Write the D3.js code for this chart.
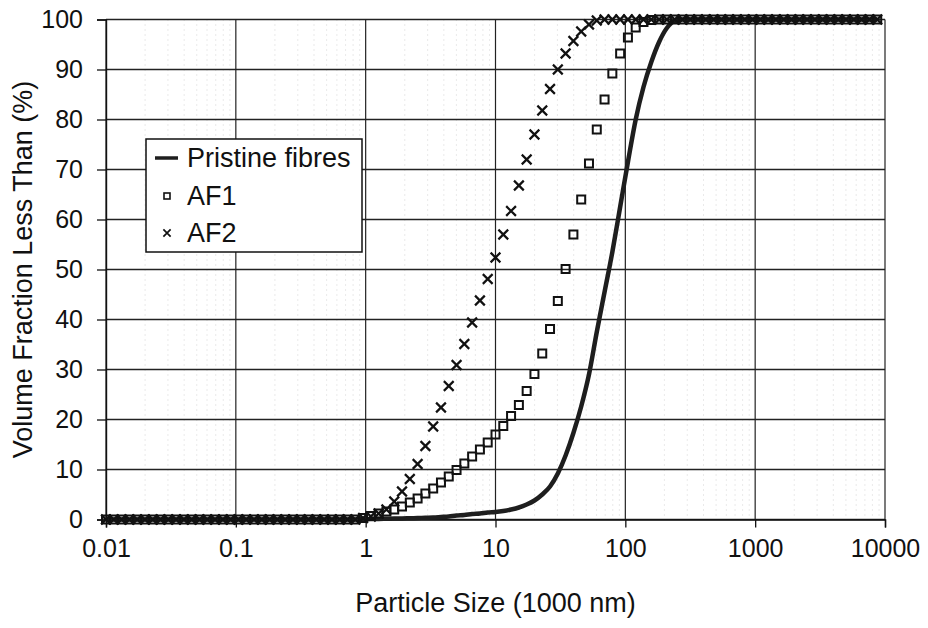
<!DOCTYPE html>
<html>
<head>
<meta charset="utf-8">
<script src="https://cdn.jsdelivr.net/npm/d3@7"></script>
<style>
  body { margin: 0; background: #fff; }
  text { font-family: "Liberation Sans", Arial, sans-serif; fill: #111; }
</style>
</head>
<body>
<div id="chart"></div>
<script>
// Particle size distribution (cumulative) - pristine fibres vs AF1 / AF2

// size bins (1000 nm), log spaced
const sizes = [0.01, 0.01148, 0.01318, 0.01514, 0.01738, 0.01995, 0.02291, 0.0263, 0.0302, 0.03467,
  0.03981, 0.04571, 0.05248, 0.06026, 0.06918, 0.07943, 0.0912, 0.1047, 0.1202, 0.138,
  0.1585, 0.182, 0.2089, 0.2399, 0.2754, 0.3162, 0.3631, 0.4169, 0.4786, 0.5495,
  0.631, 0.7244, 0.8318, 0.955, 1.096, 1.259, 1.445, 1.66, 1.905, 2.188,
  2.512, 2.884, 3.311, 3.802, 4.365, 5.012, 5.754, 6.607, 7.586, 8.71,
  10, 11.48, 13.18, 15.14, 17.38, 19.95, 22.91, 26.3, 30.2, 34.67,
  39.81, 45.71, 52.48, 60.26, 69.18, 79.43, 91.2, 104.7, 120.2, 138,
  158.5, 182, 208.9, 239.9, 275.4, 316.2, 363.1, 416.9, 478.6, 549.5,
  631, 724.4, 831.8, 955, 1096, 1259, 1445, 1660, 1905, 2188,
  2512, 2884, 3311, 3802, 4365, 5012, 5754, 6607, 7586, 8710]

const pristine = [0, 0, 0, 0, 0, 0, 0, 0, 0, 0,
  0, 0, 0, 0, 0, 0, 0, 0, 0, 0,
  0, 0, 0, 0, 0, 0, 0, 0, 0, 0,
  0, 0, 0, 0.05, 0.1, 0.1, 0.15, 0.2, 0.2, 0.25,
  0.3, 0.35, 0.4, 0.5, 0.6, 0.8, 0.9, 1.1, 1.2, 1.4,
  1.5, 1.7, 2.0, 2.4, 3.0, 3.8, 5.0, 6.6, 9.2, 12.8,
  17.3, 22.6, 29.0, 37.5, 45.5, 53.5, 62.5, 71.5, 80, 86.5,
  91.5, 95.5, 98.3, 99.7, 100, 100, 100, 100, 100, 100,
  100, 100, 100, 100, 100, 100, 100, 100, 100, 100,
  100, 100, 100, 100, 100, 100, 100, 100, 100, 100]

const af1 = [0, 0, 0, 0, 0, 0, 0, 0, 0, 0,
  0, 0, 0, 0, 0, 0, 0, 0, 0, 0,
  0, 0, 0, 0, 0, 0, 0, 0, 0, 0,
  0, 0, 0, 0.3, 0.7, 1.2, 1.6, 2.0, 2.6, 3.4,
  4.2, 5.2, 6.2, 7.4, 8.6, 9.9, 11.2, 12.6, 14.0, 15.4,
  17.0, 18.7, 20.7, 22.9, 25.7, 29.1, 33.2, 38.1, 43.7, 50.1,
  57.0, 64.0, 71.2, 78.0, 84.0, 89.2, 93.2, 96.4, 98.4, 99.5,
  99.9, 100, 100, 100, 100, 100, 100, 100, 100, 100,
  100, 100, 100, 100, 100, 100, 100, 100, 100, 100,
  100, 100, 100, 100, 100, 100, 100, 100, 100, 100]

const af2 = [0, 0, 0, 0, 0, 0, 0, 0, 0, 0,
  0, 0, 0, 0, 0, 0, 0, 0, 0, 0,
  0, 0, 0, 0, 0, 0, 0, 0, 0, 0,
  0, 0, 0, 0.3, 0.6, 1.2, 2.0, 3.6, 5.6, 8.1,
  11.1, 14.7, 18.6, 22.4, 26.7, 30.9, 35.1, 39.4, 43.8, 48.1,
  52.4, 57.0, 61.7, 66.8, 72.0, 77.0, 81.8, 86.1, 90.0, 93.2,
  95.7, 97.6, 99.0, 99.8, 100, 100, 100, 100, 100, 100,
  100, 100, 100, 100, 100, 100, 100, 100, 100, 100,
  100, 100, 100, 100, 100, 100, 100, 100, 100, 100,
  100, 100, 100, 100, 100, 100, 100, 100, 100, 100]

const xTicks = [0.01, 0.1, 1, 10, 100, 1000, 10000]
const yTicks = [0, 10, 20, 30, 40, 50, 60, 70, 80, 90, 100]
const legendLabels = ['Pristine fibres', 'AF1', 'AF2']

const W = 928, H = 628
const plotL = 106, plotR = 885, plotT = 19.5, plotB = 519.5

const x = d3.scaleLog().domain([0.01, 10000]).range([plotL, plotR])
const y = d3.scaleLinear().domain([0, 100]).range([plotB, plotT])

const svg = d3.select('#chart').append('svg')
    .attr('width', W)
    .attr('height', H)

// minor vertical grid (faint, dotted)
const minor = []
xTicks.slice(0, -1).forEach(t => {
    for (let k = 2; k <= 9; k++) minor.push(t * k)
})
svg.append('g').selectAll('line')
    .data(minor)
    .join('line')
    .attr('x1', d => x(d)).attr('x2', d => x(d))
    .attr('y1', plotT).attr('y2', plotB)
    .attr('stroke', '#999')
    .attr('stroke-width', 1)
    .attr('stroke-dasharray', '1,4')
    .attr('opacity', 0.4)

// major grid
svg.append('g').selectAll('line')
    .data(yTicks)
    .join('line')
    .attr('x1', plotL).attr('x2', plotR)
    .attr('y1', d => y(d)).attr('y2', d => y(d))
    .attr('stroke', '#222')
    .attr('stroke-width', 1.3)

svg.append('g').selectAll('line')
    .data(xTicks)
    .join('line')
    .attr('x1', d => x(d)).attr('x2', d => x(d))
    .attr('y1', plotT).attr('y2', plotB)
    .attr('stroke', '#222')
    .attr('stroke-width', 1.2)

// axes
const xAxis = svg.append('g')
    .attr('transform', `translate(0,${plotB})`)
    .call(d3.axisBottom(x).tickValues(xTicks).tickFormat(d => String(d)).tickSize(8).tickPadding(12))
const yAxis = svg.append('g')
    .attr('transform', `translate(${plotL},0)`)
    .call(d3.axisLeft(y).tickValues(yTicks).tickSize(9).tickPadding(14))

;[xAxis, yAxis].forEach(g => {
    g.select('.domain').attr('stroke', '#111').attr('stroke-width', 1.4)
    g.selectAll('.tick line').attr('stroke', '#111').attr('stroke-width', 1.3)
    g.selectAll('.tick text')
        .attr('font-size', '25px')
        .attr('font-family', '"Liberation Sans", Arial, sans-serif')
        .attr('fill', '#111')
})

// data marks
const pts = s => sizes.map((d, i) => ({ size: d, value: s[i] }))

svg.append('path')
    .datum(pts(pristine))
    .attr('fill', 'none')
    .attr('stroke', '#1e1e1e')
    .attr('stroke-width', 4.5)
    .attr('d', d3.line().x(d => x(d.size)).y(d => y(d.value)).curve(d3.curveMonotoneX))

svg.append('g').selectAll('rect')
    .data(pts(af1))
    .join('rect')
    .attr('x', d => x(d.size) - 4)
    .attr('y', d => y(d.value) - 4)
    .attr('width', 8)
    .attr('height', 8)
    .attr('fill', 'none')
    .attr('stroke', '#111')
    .attr('stroke-width', 2)

const cross = d3.symbol().type(d3.symbolX).size(64)
svg.append('g').selectAll('path')
    .data(pts(af2))
    .join('path')
    .attr('transform', d => `translate(${x(d.size)},${y(d.value)})`)
    .attr('d', cross)
    .attr('fill', 'none')
    .attr('stroke', '#111')
    .attr('stroke-width', 2.2)

// legend
const legend = svg.append('g')
legend.append('rect')
    .attr('x', 146).attr('y', 139)
    .attr('width', 216).attr('height', 113)
    .attr('fill', '#fff')
    .attr('stroke', '#111')
    .attr('stroke-width', 1.5)

const rowY = [158, 196, 233]
legend.append('line')
    .attr('x1', 155).attr('x2', 178)
    .attr('y1', rowY[0]).attr('y2', rowY[0])
    .attr('stroke', '#1e1e1e').attr('stroke-width', 3.5)
legend.append('rect')
    .attr('x', 164).attr('y', rowY[1] - 3)
    .attr('width', 6).attr('height', 6)
    .attr('fill', 'none').attr('stroke', '#111').attr('stroke-width', 1.6)
legend.append('path')
    .attr('transform', `translate(167,${rowY[2]})`)
    .attr('d', d3.symbol().type(d3.symbolX).size(36))
    .attr('fill', 'none').attr('stroke', '#111').attr('stroke-width', 1.7)

legend.selectAll('text.lbl')
    .data(legendLabels)
    .join('text')
    .attr('class', 'lbl')
    .attr('x', 187)
    .attr('y', (d, i) => rowY[i])
    .attr('dy', '0.35em')
    .attr('font-size', '27px')
    .text(d => d)

// axis titles
svg.append('text')
    .attr('x', (plotL + plotR) / 2)
    .attr('y', 612)
    .attr('text-anchor', 'middle')
    .attr('font-size', '27px')
    .text('Particle Size (1000 nm)')

svg.append('text')
    .attr('transform', `translate(32,${(plotT + plotB) / 2}) rotate(-90)`)
    .attr('text-anchor', 'middle')
    .attr('font-size', '27px')
    .text('Volume Fraction Less Than (%)')
</script>
</body>
</html>
